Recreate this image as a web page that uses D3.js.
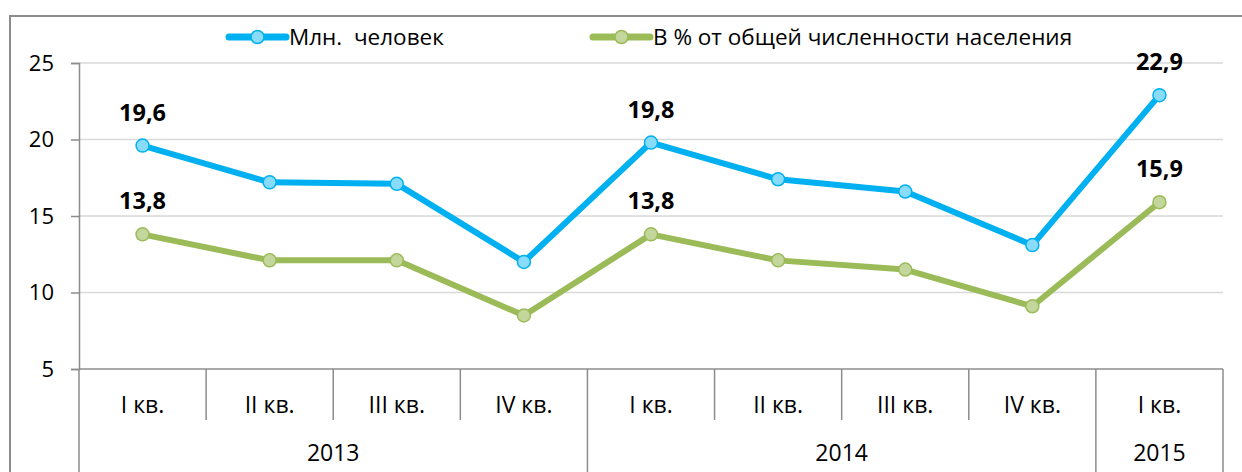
<!DOCTYPE html>
<html lang="ru">
<head>
<meta charset="UTF-8">
<title>Численность населения с денежными доходами ниже прожиточного минимума</title>
<script src="https://d3js.org/d3.v7.min.js"></script>
<style>
  body { margin: 0; background: #fff; }
  text { font-family: "Open Sans", "Liberation Sans", sans-serif; fill: #000; white-space: pre; }
  .grid line { stroke: #d9d9d9; stroke-width: 1.3; }
</style>
</head>
<body>
<div id="chart"></div>
<script>
  const quarters = ["I кв.", "II кв.", "III кв.", "IV кв.", "I кв.", "II кв.", "III кв.", "IV кв.", "I кв."];
  const years = [
    { label: "2013", span: 4 },
    { label: "2014", span: 4 },
    { label: "2015", span: 1 }
  ];
  const millions = [19.6, 17.2, 17.1, 12.0, 19.8, 17.4, 16.6, 13.1, 22.9];
  const percent = [13.8, 12.1, 12.1, 8.5, 13.8, 12.1, 11.5, 9.1, 15.9];
  const labelled = [0, 4, 8];
  const yTicks = [5, 10, 15, 20, 25];

  const series = [
    { name: "Млн.  человек", values: millions, line: "#00b0f0", fill: "#88dcfa" },
    { name: "В % от общей численности населения", values: percent, line: "#9bbb59", fill: "#c3d69b" }
  ];

  const W = 1242, H = 472;
  const plot = { left: 79, right: 1223, top: 63, bottom: 369 };

  const svg = d3.select("#chart").append("svg")
      .attr("width", W).attr("height", H);

  // outer frame
  svg.append("path")
      .attr("d", `M10,${H} V16 H${W}`)
      .attr("fill", "none").attr("stroke", "#8c8c8c").attr("stroke-width", 2);

  const x = d3.scaleBand().domain(d3.range(quarters.length)).range([plot.left, plot.right]);
  const y = d3.scaleLinear().domain([5, 25]).range([plot.bottom, plot.top]);

  // gridlines
  svg.append("g").attr("class", "grid")
    .selectAll("line").data(yTicks.filter(t => t > 5)).join("line")
      .attr("x1", plot.left).attr("x2", plot.right)
      .attr("y1", d => y(d)).attr("y2", d => y(d));

  // y axis
  const yAxis = svg.append("g")
      .attr("transform", `translate(${plot.left},0)`)
      .call(d3.axisLeft(y).tickValues(yTicks).tickSize(8).tickPadding(17));
  yAxis.select(".domain").attr("stroke", "#8c8c8c").attr("stroke-width", 1.5);
  yAxis.selectAll(".tick line").attr("stroke", "#8c8c8c").attr("stroke-width", 1.5);
  yAxis.selectAll(".tick text").style("font-size", "22px").attr("fill", "#000");

  // x axis: quarter row + year row
  const xa = svg.append("g");
  xa.append("line")
      .attr("x1", plot.left).attr("x2", plot.right).attr("y1", plot.bottom).attr("y2", plot.bottom)
      .attr("stroke", "#8c8c8c").attr("stroke-width", 1.5);

  let acc = 0;
  const yearEdges = [0];
  years.forEach(yr => { acc += yr.span; yearEdges.push(acc); });

  d3.range(quarters.length + 1).forEach(i => {
    const px = i < quarters.length ? x(i) : plot.right;
    const isYear = yearEdges.includes(i);
    xa.append("line")
        .attr("x1", px).attr("x2", px)
        .attr("y1", plot.bottom).attr("y2", isYear ? H : plot.bottom + 51)
        .attr("stroke", "#8c8c8c").attr("stroke-width", 1.5);
  });

  xa.selectAll("text.q").data(quarters).join("text")
      .attr("class", "q")
      .attr("x", (d, i) => x(i) + x.bandwidth() / 2)
      .attr("y", 413)
      .attr("text-anchor", "middle")
      .style("font-size", "23px")
      .text(d => d);

  xa.selectAll("text.yr").data(years).join("text")
      .attr("class", "yr")
      .attr("x", (d, i) => {
        const a = x(yearEdges[i]);
        const b = yearEdges[i + 1] < quarters.length ? x(yearEdges[i + 1]) : plot.right;
        return (a + b) / 2;
      })
      .attr("y", 461)
      .attr("text-anchor", "middle")
      .style("font-size", "23px")
      .text(d => d.label);

  // lines and markers
  const line = d3.line()
      .x((d, i) => x(i) + x.bandwidth() / 2)
      .y(d => y(d));

  series.forEach(s => {
    svg.append("path")
        .datum(s.values)
        .attr("d", line)
        .attr("fill", "none")
        .attr("stroke", s.line)
        .attr("stroke-width", 6)
        .attr("stroke-linejoin", "round");

    svg.append("g").selectAll("circle").data(s.values).join("circle")
        .attr("cx", (d, i) => x(i) + x.bandwidth() / 2)
        .attr("cy", d => y(d))
        .attr("r", 6.5)
        .attr("fill", s.fill)
        .attr("stroke", s.line)
        .attr("stroke-width", 1.5);

    svg.append("g").selectAll("text").data(labelled).join("text")
        .attr("x", i => x(i) + x.bandwidth() / 2)
        .attr("y", i => y(s.values[i]) - 25)
        .attr("text-anchor", "middle")
        .style("font-size", "23.5px")
        .style("font-weight", "bold")
        .text(i => d3.format(".1f")(s.values[i]).replace(".", ","));
  });

  // legend
  const legendX = [229, 593];
  series.forEach((s, k) => {
    const g = svg.append("g").attr("transform", `translate(${legendX[k]},37)`);
    g.append("line").attr("x1", 0).attr("x2", 57).attr("y1", 0).attr("y2", 0)
        .attr("stroke", s.line).attr("stroke-width", 7).attr("stroke-linecap", "round");
    g.append("circle").attr("cx", 28.5).attr("cy", 0).attr("r", 6.5)
        .attr("fill", s.fill).attr("stroke", s.line).attr("stroke-width", 1.5);
    g.append("text").attr("x", 60).attr("y", 8)
        .style("font-size", "22.5px")
        .text(s.name);
  });
</script>
</body>
</html>
